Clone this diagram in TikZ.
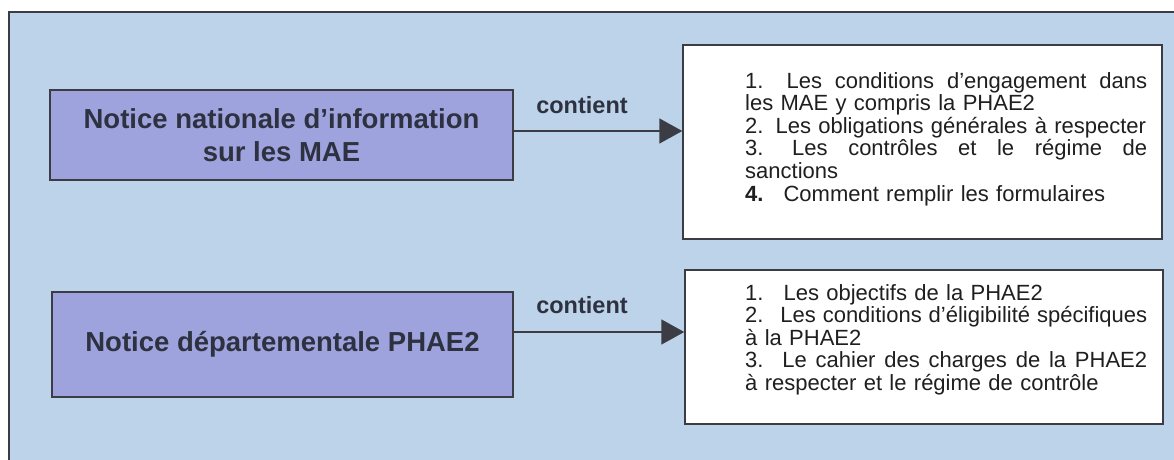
\documentclass[tikz,border=0pt]{standalone}
\usepackage{fontspec}
\setmainfont{Liberation Sans}
\usetikzlibrary{arrows.meta}
\definecolor{bgblue}{HTML}{BDD3EA}
\definecolor{boxpurple}{HTML}{9EA3DD}
\definecolor{inkdark}{HTML}{2E3140}
\definecolor{framegray}{HTML}{3C3C44}
\newcommand\jline[1]{\leavevmode\hbox to 402pt{#1}}
\newcommand\gp{\hspace{6pt plus 1fil}}
\tikzset{
  srcbox/.style={draw=framegray, line width=1.5pt, fill=boxpurple, inner sep=0pt,
    font=\fontsize{27.5}{33}\selectfont\bfseries, text=inkdark, align=center},
  listbox/.style={draw=framegray, line width=1.5pt, fill=white, inner sep=0pt},
  listtext/.style={anchor=north west, inner sep=0pt, text width=402pt, align=left,
    font=\fontsize{22}{22.6}\selectfont, text=black!88},
  linklabel/.style={font=\fontsize{23.5}{26}\selectfont\bfseries, text=inkdark},
  linkarrow/.style={draw=framegray, line width=1.8pt, -{Triangle[length=23pt,width=25pt]}},
}
\begin{document}
\begin{tikzpicture}[x=1pt,y=1pt]
\useasboundingbox (0,0) rectangle (1174,459);
\fill[white] (0,0) rectangle (1174,459);
\begin{scope}
  \clip (0,0) rectangle (1174,459);
  \draw[draw=framegray, line width=2pt, fill=bgblue] (9,447) rectangle (1190,-20);
\end{scope}

% source boxes
\node[srcbox, minimum width=463pt, minimum height=90pt] (b1) at (281.5,324)
  {Notice nationale d’information\\sur les MAE};
\node[srcbox, minimum width=461pt, minimum height=105pt] (b2) at (282.5,114.5)
  {\raisebox{6pt}{Notice départementale PHAE2}};

% list boxes
\node[listbox, minimum width=479pt, minimum height=194pt] (r1) at (922.5,317) {};
\node[listbox, minimum width=478pt, minimum height=154pt] (r2) at (924,112) {};

\node[listtext] (r1t) at (745,387) {%
  \jline{1.\hspace{10pt}\gp Les\gp conditions\gp d’engagement\gp dans}\\
  les MAE y compris la PHAE2\\
  2.\hspace{12pt}Les obligations générales à respecter\\
  \jline{3.\hspace{8pt}\gp Les\gp contrôles\gp et\gp le\gp régime\gp de}\\
  sanctions\\
  \textbf{4.}\hspace{20pt}Comment remplir les formulaires};

\node[listtext] (r2t) at (745,175) {%
  1.\hspace{20pt}Les objectifs de la PHAE2\\
  \jline{2.\hspace{10pt}\gp Les\gp conditions\gp d’éligibilité\gp spécifiques}\\
  à la PHAE2\\
  \jline{3.\hspace{10pt}\gp Le\gp cahier\gp des\gp charges\gp de\gp la\gp PHAE2}\\
  à respecter et le régime de contrôle};

% connectors
\draw[linkarrow] (b1.east |- 0,328) -- (r1.west |- 0,328);
\draw[linkarrow] (b2.east |- 0,127) -- (r2.west |- 0,127);
\node[linklabel] (c1) at (582,354) {contient};
\node[linklabel] (c2) at (582,154) {contient};
\end{tikzpicture}
\end{document}
